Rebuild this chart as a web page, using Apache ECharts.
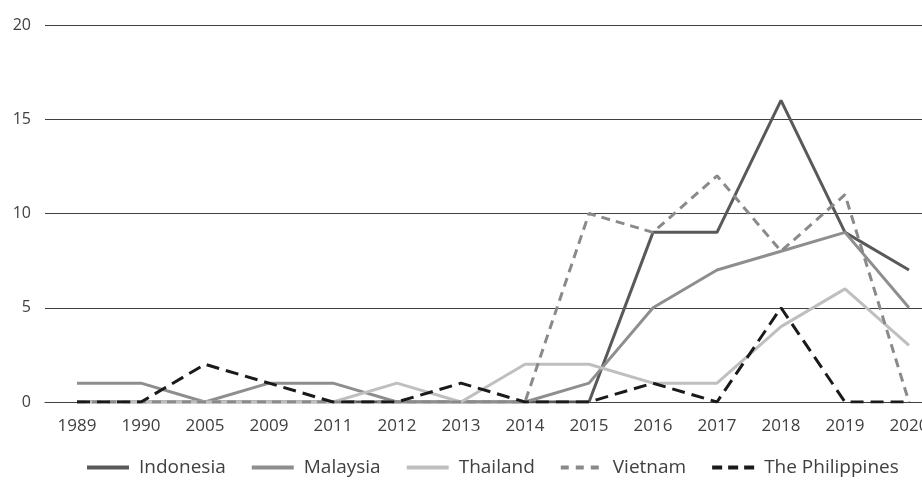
<!DOCTYPE html>
<html>
<head>
<meta charset="utf-8">
<script src="https://cdn.jsdelivr.net/npm/echarts@6/dist/echarts.min.js"></script>
<style>html,body{margin:0;padding:0;background:#fff;overflow:hidden;width:922px;height:480px;}#c{width:941px;height:480px;}</style>
</head>
<body>
<div id="c"></div>
<script>
const categories = ['1989','1990','2005','2009','2011','2012','2013','2014','2015','2016','2017','2018','2019','2020'];
const indonesia = [0,0,0,0,0,0,0,0,0,9,9,16,9,7];
const malaysia = [1,1,0,1,1,0,0,0,1,5,7,8,9,5];
const thailand = [0,0,0,0,0,1,0,2,2,1,1,4,6,3];
const vietnam = [0,0,0,0,0,0,0,0,10,9,12,8,11,0];
const philippines = [0,0,2,1,0,0,1,0,0,1,0,5,0,0];
const yTicks = [0,5,10,15,20];

const font = 'Open Sans';
function s(name, data, color, type, width) {
  return {
    name, type: 'line', data, symbol: 'none', smooth: false,
    lineStyle: { color, width, type, cap: 'butt' },
    itemStyle: { color },
    emphasis: { disabled: true }
  };
}
const chart = echarts.init(document.getElementById('c'));
chart.setOption({
  animation: false,
  backgroundColor: '#fff',
  grid: { left: 45, right: 0, top: 25, height: 377, containLabel: false },
  xAxis: {
    type: 'category', data: categories, boundaryGap: true,
    axisLine: { show: true, lineStyle: { color: '#404040', width: 1 } },
    axisTick: { show: false },
    axisLabel: { color: '#404040', fontFamily: font, fontSize: 17, margin: 16 }
  },
  yAxis: {
    type: 'value', min: yTicks[0], max: yTicks[yTicks.length-1], interval: 5,
    axisLine: { show: false }, axisTick: { show: false },
    splitLine: { lineStyle: { color: '#404040', width: 1 } },
    axisLabel: { color: '#404040', fontFamily: font, fontSize: 16, margin: 14 }
  },
  legend: {
    bottom: -2, left: 80, itemWidth: 42, itemHeight: 14, itemGap: 24,
    itemStyle: { opacity: 0 },
    textStyle: { color: '#404040', fontFamily: font, fontSize: 19, padding: [0,0,0,5] },
    data: [
      { name: 'Indonesia', lineStyle: { width: 4 } },
      { name: 'Malaysia', lineStyle: { width: 4 } },
      { name: 'Thailand', lineStyle: { width: 4 } },
      { name: 'Vietnam', lineStyle: { width: 4, type: [8, 7] } },
      { name: 'The Philippines', lineStyle: { width: 4, type: [10, 6] } }
    ]
  },
  series: [
    s('Indonesia', indonesia, '#595959', 'solid', 3),
    s('Malaysia', malaysia, '#8e8e8e', 'solid', 3),
    s('Thailand', thailand, '#bfbfbf', 'solid', 3),
    s('Vietnam', vietnam, '#8a8a8a', [9,6], 3),
    s('The Philippines', philippines, '#1a1a1a', [13,7], 3)
  ]
});
</script>
</body>
</html>
